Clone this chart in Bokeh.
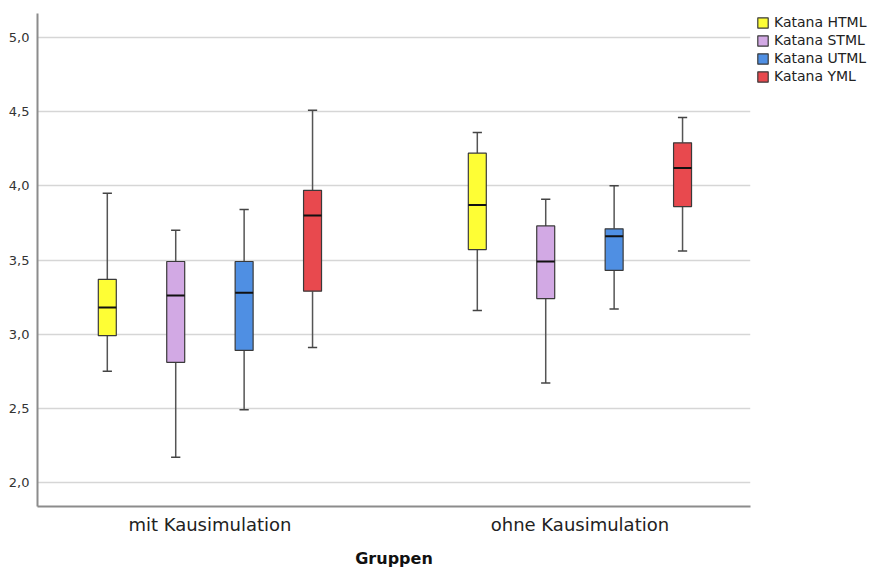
from bokeh.plotting import figure
from bokeh.models import Legend, LegendItem, FixedTicker, CustomJSTickFormatter, Range1d
from bokeh.embed import file_html
from bokeh.resources import INLINE

groups = ["mit Kausimulation", "ohne Kausimulation"]
series = ["Katana HTML", "Katana STML", "Katana UTML", "Katana YML"]
colors = ["#FEFE35", "#D2A9E4", "#4F8FE3", "#E8494E"]

# per series: values for [mit, ohne]
whisker_low = [[2.75, 3.16], [2.17, 2.67], [2.49, 3.17], [2.91, 3.56]]
q1 =          [[2.99, 3.57], [2.81, 3.24], [2.89, 3.43], [3.29, 3.86]]
median =      [[3.18, 3.87], [3.26, 3.49], [3.28, 3.66], [3.80, 4.12]]
q3 =          [[3.37, 4.22], [3.49, 3.73], [3.49, 3.71], [3.97, 4.29]]
whisker_high = [[3.95, 4.36], [3.70, 3.91], [3.84, 4.00], [4.51, 4.46]]

y_ticks = [2.0, 2.5, 3.0, 3.5, 4.0, 4.5, 5.0]

FONT = "DejaVu Sans"

p = figure(frame_width=713, frame_height=493, output_backend="svg", toolbar_location=None,
           x_range=Range1d(0.534, 2.461), y_range=Range1d(1.838, 5.162),
           min_border_left=37, min_border_top=13, min_border_right=123, min_border_bottom=60)
p.outline_line_color = None
p.background_fill_color = "white"
p.border_fill_color = "white"

gx = [1, 2]
step = 0.1849
offsets = [-1.5 * step, -0.5 * step, 0.5 * step, 1.5 * step]
bw = 0.0486
cap = 0.025

items = []
for i, name in enumerate(series):
    xs = [g + offsets[i] for g in gx]
    p.segment(x0=xs, y0=whisker_low[i], x1=xs, y1=q1[i], line_color="#555555", line_width=1.5)
    p.segment(x0=xs, y0=q3[i], x1=xs, y1=whisker_high[i], line_color="#555555", line_width=1.5)
    p.segment(x0=[x - cap / 2 for x in xs], y0=whisker_low[i], x1=[x + cap / 2 for x in xs],
              y1=whisker_low[i], line_color="#444444", line_width=1.5)
    p.segment(x0=[x - cap / 2 for x in xs], y0=whisker_high[i], x1=[x + cap / 2 for x in xs],
              y1=whisker_high[i], line_color="#444444", line_width=1.5)
    r = p.vbar(x=xs, width=bw, bottom=q1[i], top=q3[i], fill_color=colors[i],
               line_color="#3a3a3a", line_width=1.2)
    p.segment(x0=[x - bw / 2 for x in xs], y0=median[i], x1=[x + bw / 2 for x in xs],
              y1=median[i], line_color="#111111", line_width=2)
    items.append(LegendItem(label=name, renderers=[r]))

legend = Legend(items=items, location=(6, 421), margin=0, padding=0, spacing=0,
                glyph_width=13, glyph_height=13, label_standoff=5, label_height=18,
                label_text_font=FONT, label_text_font_size="14px", label_text_color="#222222",
                border_line_color=None, background_fill_alpha=0)
p.add_layout(legend, "right")

p.xgrid.grid_line_color = None
p.ygrid.grid_line_color = "#d6d6d6"
p.ygrid.grid_line_width = 1.5
p.ygrid.ticker = FixedTicker(ticks=y_ticks)

p.yaxis.ticker = FixedTicker(ticks=y_ticks)
p.yaxis.formatter = CustomJSTickFormatter(code="return tick.toFixed(1).replace('.', ',');")
p.yaxis.major_tick_line_color = None
p.yaxis.minor_tick_line_color = None
p.yaxis.axis_line_color = "#8c8c8c"
p.yaxis.axis_line_width = 2
p.yaxis.major_label_text_font = FONT
p.yaxis.major_label_text_font_size = "13px"
p.yaxis.major_label_text_color = "#333333"
p.yaxis.major_label_standoff = 2

p.xaxis.ticker = FixedTicker(ticks=gx)
p.xaxis.major_label_overrides = {1: groups[0], 2: groups[1]}
p.xaxis.major_tick_line_color = None
p.xaxis.minor_tick_line_color = None
p.xaxis.axis_line_color = "#8c8c8c"
p.xaxis.axis_line_width = 2
p.xaxis.major_label_text_font = FONT
p.xaxis.major_label_text_font_size = "18px"
p.xaxis.major_label_text_color = "#222222"
p.xaxis.major_label_standoff = 1
p.xaxis.axis_label = "Gruppen"
p.xaxis.axis_label_text_font = FONT
p.xaxis.axis_label_text_font_size = "16px"
p.xaxis.axis_label_text_font_style = "bold"
p.xaxis.axis_label_text_color = "#111111"
p.xaxis.axis_label_standoff = 11

open("out.html", "w").write(file_html(p, INLINE))
